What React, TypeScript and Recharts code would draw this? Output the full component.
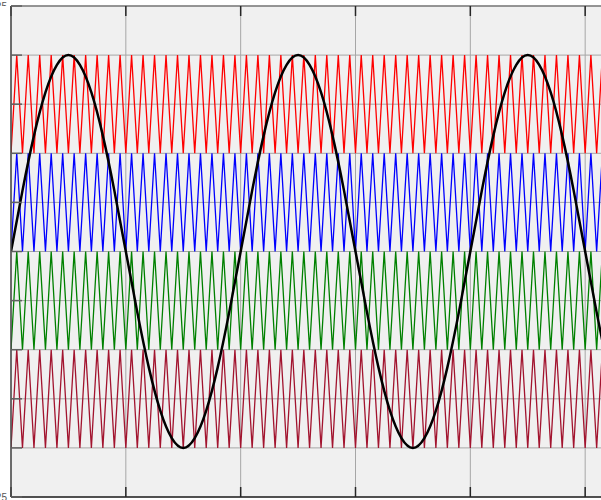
import { LineChart, Line, XAxis, YAxis, CartesianGrid } from "recharts";

// time axis in ms, gridlines every 10 ms
const xTicks = [0, 10, 20, 30, 40, 50, 60];
const yTicks = [-1.25, -1, -0.75, -0.5, -0.25, 0, 0.25, 0.5, 0.75, 1, 1.25];

// reference sine, one sample per ms (50 Hz, peak 1)
const reference = [
  0, 0.31, 0.59, 0.81, 0.95, 1, 0.95, 0.81, 0.59, 0.31,
  0, -0.31, -0.59, -0.81, -0.95, -1, -0.95, -0.81, -0.59, -0.31,
  0, 0.31, 0.59, 0.81, 0.95, 1, 0.95, 0.81, 0.59, 0.31,
  0, -0.31, -0.59, -0.81, -0.95, -1, -0.95, -0.81, -0.59, -0.31,
  0, 0.31, 0.59, 0.81, 0.95, 1, 0.95, 0.81, 0.59, 0.31,
  0, -0.31, -0.59, -0.81, -0.95, -1, -0.95, -0.81, -0.59, -0.31,
  0,
];

// triangle carrier corners, one every 0.5 ms (0 = band bottom, 1 = band top)
const carrierStep = 0.5;
const carrierShape = [
  0, 1, 0, 1, 0, 1, 0, 1, 0, 1, 0, 1, 0, 1, 0, 1, 0, 1, 0, 1,
  0, 1, 0, 1, 0, 1, 0, 1, 0, 1, 0, 1, 0, 1, 0, 1, 0, 1, 0, 1,
  0, 1, 0, 1, 0, 1, 0, 1, 0, 1, 0, 1, 0, 1, 0, 1, 0, 1, 0, 1,
  0, 1, 0, 1, 0, 1, 0, 1, 0, 1, 0, 1, 0, 1, 0, 1, 0, 1, 0, 1,
  0, 1, 0, 1, 0, 1, 0, 1, 0, 1, 0, 1, 0, 1, 0, 1, 0, 1, 0, 1,
  0, 1, 0, 1, 0, 1, 0, 1, 0, 1, 0, 1, 0, 1, 0, 1, 0, 1, 0, 1,
  0,
];

// level-shifted carrier bands (top to bottom)
const bandNames = ["c1", "c2", "c3", "c4"];
const bandLows = [0.5, 0, -0.5, -1];
const bandHighs = [1, 0.5, 0, -0.5];
const bandColors = ["#ff0000", "#0000ff", "#008000", "#a2142f"];

const carrierRows = carrierShape.map((s, i) => {
  const row: Record<string, number> = { t: i * carrierStep };
  bandNames.forEach((name, b) => {
    row[name] = bandLows[b] + s * (bandHighs[b] - bandLows[b]);
  });
  return row;
});
const sineRows = reference.map((v, i) => ({ t: i, v }));

const NoLabel = () => <g />;

function YTick(props: any) {
  const { y, payload } = props;
  if (payload.value === 1.25) {
    return (
      <g>
        <defs>
          <clipPath id="topLabelClip">
            <rect x={0} y={0} width={10} height={6} />
          </clipPath>
        </defs>
        <text x={7} y={y} dy={3.5} textAnchor="end" fontSize={10} fill="#555" clipPath="url(#topLabelClip)">
          1.25
        </text>
      </g>
    );
  }
  if (payload.value === -1.25) {
    return (
      <text x={7} y={y} dy={3.5} textAnchor="end" fontSize={10} fill="#555">
        -1.25
      </text>
    );
  }
  return <g />;
}

export default function App() {
  const tickStyle = { stroke: "#262626", strokeWidth: 1.5 };
  return (
    <div style={{ position: "absolute", left: 0, top: 0, width: 601, height: 500, overflow: "hidden", background: "#fff", fontFamily: "'Liberation Sans', sans-serif" }}>
      <LineChart width={700} height={500} data={carrierRows} margin={{ top: 6, right: 0, bottom: 3, left: 11 }}>
        <CartesianGrid fill="#f0f0f0" stroke="#a6a6a6" />
        <XAxis
          type="number" dataKey="t" domain={[0, 60]} ticks={xTicks} allowDataOverflow interval={0}
          mirror tick={NoLabel} tickSize={10} tickLine={tickStyle} axisLine={{ stroke: "#262626", strokeWidth: 1.5 }}
        />
        <XAxis
          xAxisId="top" orientation="top" type="number" dataKey="t" domain={[0, 60]} ticks={xTicks} allowDataOverflow interval={0}
          mirror tick={NoLabel} tickSize={10} tickLine={tickStyle} axisLine={{ stroke: "#808080", strokeWidth: 1.5 }}
        />
        <YAxis
          type="number" domain={[-1.25, 1.25]} ticks={yTicks} allowDataOverflow interval={0}
          mirror tick={YTick} tickSize={11} tickLine={{ stroke: "#606060", strokeWidth: 1.5 }}
          axisLine={{ stroke: "#4a4a4a", strokeWidth: 1.5 }}
        />
        {bandNames.map((name, b) => (
          <Line
            key={name} dataKey={name} type="linear" stroke={bandColors[b]} strokeWidth={1.3}
            dot={false} activeDot={false} isAnimationActive={false}
          />
        ))}
        <Line
          xAxisId="top" data={sineRows} dataKey="v" type="natural" stroke="#000" strokeWidth={2.5}
          dot={false} activeDot={false} isAnimationActive={false}
        />
      </LineChart>
    </div>
  );
}
